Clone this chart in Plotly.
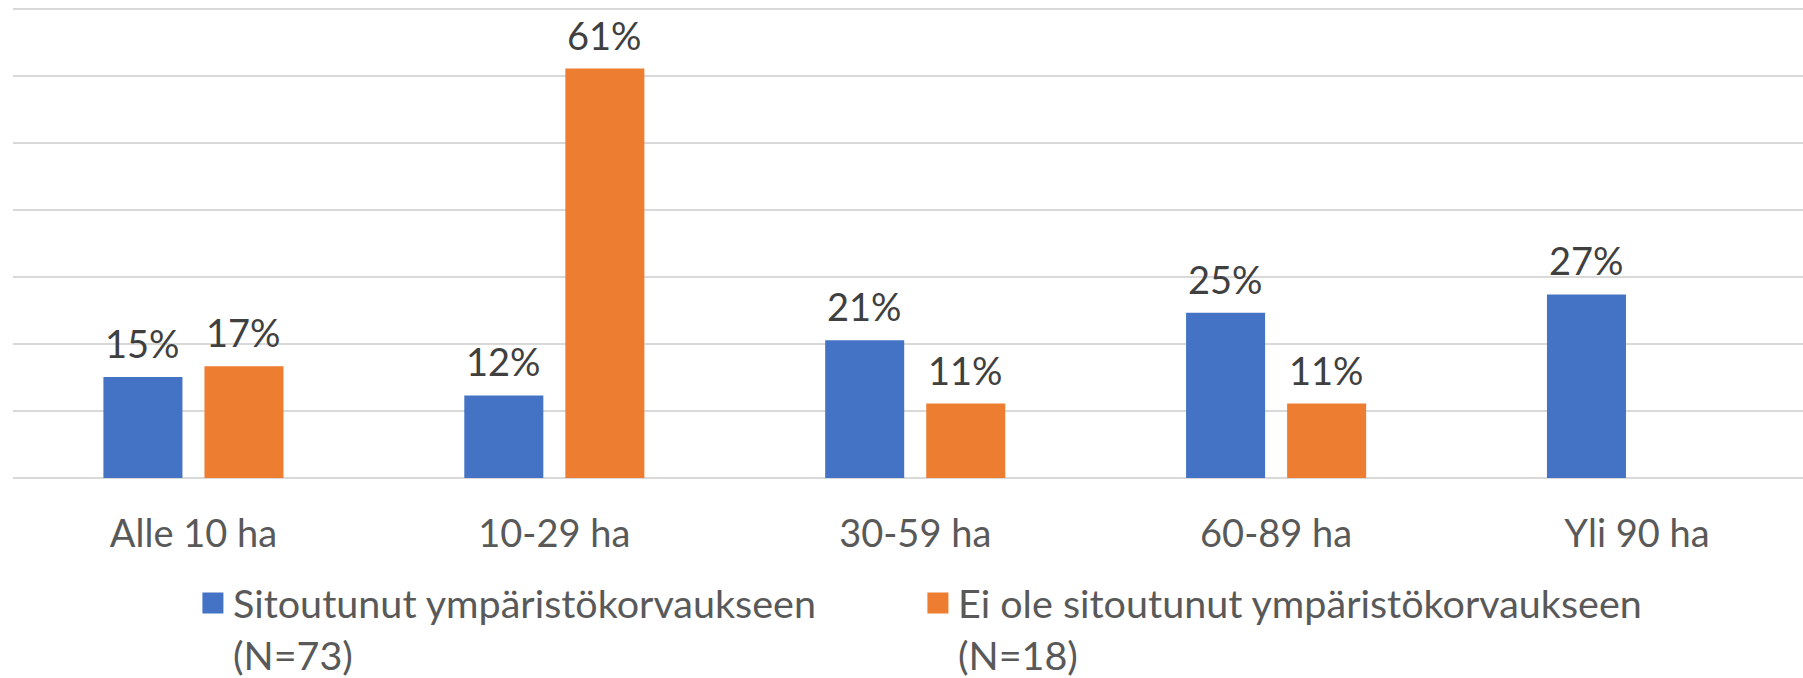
import plotly.graph_objects as go

categories = ["Alle 10 ha", "10-29 ha", "30-59 ha", "60-89 ha", "Yli 90 ha"]
series_names = ["Sitoutunut ympäristökorvaukseen<br>(N=73)",
                "Ei ole sitoutunut ympäristökorvaukseen<br>(N=18)"]
sitoutunut = [15.07, 12.33, 20.55, 24.66, 27.40]
ei_sitoutunut = [16.67, 61.11, 11.11, 11.11, None]
colors = ["#4472C4", "#ED7D31"]

FONT = "Lato"
BARGAP = 0.44
fig = go.Figure()
series = [sitoutunut, ei_sitoutunut]
for name, vals, col in zip(series_names, series, colors):
    fig.add_trace(go.Bar(
        x=categories, y=vals, name=name, showlegend=False,
        marker=dict(color=col, line=dict(width=0)),
    ))
    # legend-only entry with a larger square swatch
    fig.add_trace(go.Scatter(
        x=[None], y=[None], mode="markers", name=name,
        marker=dict(symbol="square", size=16, color=col,
                    line=dict(width=5, color=col)),
    ))

# data labels above each bar
half = (1 - BARGAP) / 4
for k, vals in enumerate(series):
    off = -half if k == 0 else half
    for i, v in enumerate(vals):
        if v is None:
            continue
        fig.add_annotation(x=i + off, y=v, text=f"{int(v + 0.5)}%", showarrow=False,
                           xanchor="center", yanchor="bottom", yshift=9,
                           font=dict(family=FONT, size=38, color="#404040"))

fig.update_layout(
    width=1803, height=678,
    margin=dict(l=13, r=0, t=7, b=200),
    paper_bgcolor="white", plot_bgcolor="white",
    barmode="group", bargap=BARGAP, bargroupgap=0.218,
    font=dict(family=FONT, size=38, color="#595959"),
    showlegend=True,
    legend=dict(orientation="h", xref="container", yref="container",
                x=0.107, xanchor="left", y=0.158, yanchor="top",
                valign="top", entrywidth=680, traceorder="normal",
                itemsizing="trace",
                font=dict(family=FONT, size=39.5, color="#595959")),
    xaxis=dict(range=[-0.5, 4.46], showgrid=False, showline=False, zeroline=False,
               ticks="outside", ticklen=22, tickcolor="rgba(0,0,0,0)",
               tickfont=dict(family=FONT, size=38, color="#595959")),
    yaxis=dict(range=[0, 70.3], dtick=10, showticklabels=False, showgrid=True,
               gridcolor="#D9D9D9", gridwidth=1.5, zeroline=True, zerolinecolor="#D9D9D9",
               zerolinewidth=1.5, showline=False),
)
fig.write_html("out.html", config={"displayModeBar": False},
               post_script="document.body.style.margin='0px';document.body.style.overflow='hidden';")
